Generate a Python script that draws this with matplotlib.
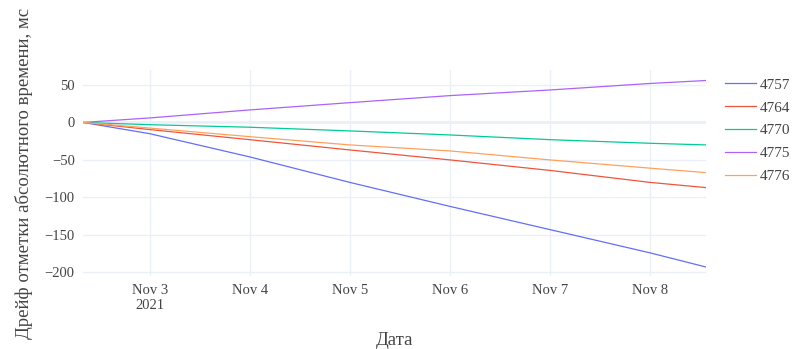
import matplotlib
matplotlib.use("Agg")
import matplotlib.pyplot as plt
import pandas as pd

# Sample times (start, daily marks, end)
times = pd.to_datetime([
    "2021-11-02 08:00", "2021-11-03 00:00", "2021-11-04 00:00", "2021-11-05 00:00",
    "2021-11-06 00:00", "2021-11-07 00:00", "2021-11-08 00:00", "2021-11-08 13:30",
])

# Drift of the absolute time mark per station, ms
drift_4757 = [0, -15, -46, -80, -112, -143, -174, -193]
drift_4764 = [0, -9.5, -23, -36.7, -50, -64, -80, -87]
drift_4770 = [0, -3, -6.4, -11.3, -16.7, -23, -27.8, -30]
drift_4775 = [0, 6, 16.7, 26.4, 35.8, 43.3, 52, 56]
drift_4776 = [0, -7.5, -19, -30, -38, -50, -61, -67]

stations = ["4757", "4764", "4770", "4775", "4776"]
series = [drift_4757, drift_4764, drift_4770, drift_4775, drift_4776]
colors = ["#636efa", "#EF553B", "#00cc96", "#ab63fa", "#FFA15A"]

tick_dates = pd.to_datetime(["2021-11-03", "2021-11-04", "2021-11-05",
                             "2021-11-06", "2021-11-07", "2021-11-08"])
tick_labels = ["Nov 3\n2021", "Nov 4", "Nov 5", "Nov 6", "Nov 7", "Nov 8"]
y_ticks = [50, 0, -50, -100, -150, -200]

plt.rcParams["font.family"] = ["Liberation Serif", "DejaVu Serif"]
text_color = "#444444"
grid_color = "#EBF0F8"

fig = plt.figure(figsize=(7.97, 3.49), dpi=100)
W, H = 797, 349
left, right, top, bottom = 83, 706, 70, 276
ax = fig.add_axes([left / W, 1 - bottom / H, (right - left) / W, (bottom - top) / H])

for name, vals, c in zip(stations, series, colors):
    ax.plot(times, vals, color=c, lw=0.9, label=name)

ax.set_xlim(times[0], times[-1])
ax.set_ylim(-205, 70)

ax.set_xticks(tick_dates)
ax.set_xticklabels(tick_labels)
ax.set_yticks(y_ticks)
ax.set_yticklabels([str(v).replace("-", "\u2212") for v in y_ticks])

ax.grid(True, color=grid_color, lw=1)
ax.axhline(0, color=grid_color, lw=2, zorder=0)
ax.set_axisbelow(True)
for s in ax.spines.values():
    s.set_visible(False)
ax.tick_params(length=0, labelsize=10.5, colors=text_color, pad=6)

ax.set_xlabel("Дата", fontsize=13.5, color=text_color, labelpad=14)
ax.set_ylabel("Дрейф отметки абсолютного времени, мс", fontsize=13.5,
              color=text_color, labelpad=8)

leg = fig.legend(loc="upper left", bbox_to_anchor=(725 / W, 1 - 78 / H),
                 bbox_transform=fig.transFigure, frameon=False,
                 fontsize=11, handlelength=2.0, handletextpad=0.3,
                 labelspacing=0.6, borderaxespad=0, borderpad=0)
for t in leg.get_texts():
    t.set_color(text_color)

fig.savefig("out.png", dpi=100, facecolor="white")
